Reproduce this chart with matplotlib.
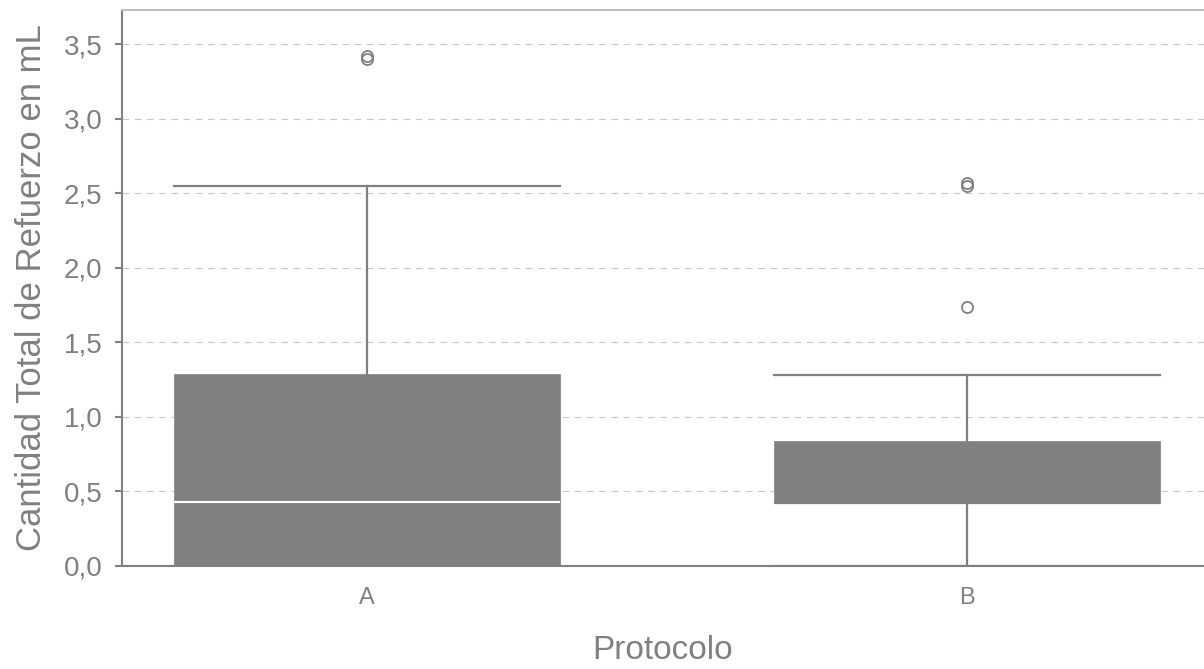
import matplotlib.pyplot as plt

plt.rcParams['font.family'] = ['Liberation Sans', 'DejaVu Sans']

# box statistics
groups = ['A', 'B']
q1 = [0.0, 0.42]
med = [0.43, 0.42]
q3 = [1.29, 0.84]
whislo = [0.0, 0.0]
whishi = [2.55, 1.28]
fliers = [[3.40, 3.42], [1.74, 2.55, 2.57]]

yticks = [0.0, 0.5, 1.0, 1.5, 2.0, 2.5, 3.0, 3.5]
ytick_labels = ['0,0', '0,5', '1,0', '1,5', '2,0', '2,5', '3,0', '3,5']

grey = '#808080'

stats = []
for i in range(len(groups)):
    stats.append({'label': groups[i], 'q1': q1[i], 'med': med[i], 'q3': q3[i],
                  'whislo': whislo[i], 'whishi': whishi[i], 'fliers': fliers[i]})

fig = plt.figure(figsize=(12.04, 6.69), dpi=100)
ax = fig.add_axes([0.1013, 0.154, 0.8987, 0.831])

ax.set_axisbelow(True)
ax.yaxis.grid(True, color='#c8c8c8', linestyle=(0, (6, 5)), linewidth=0.8)

w = 0.643
parts = ax.bxp(stats, positions=[0, 1], widths=w, capwidths=w, patch_artist=True,
               boxprops=dict(facecolor=grey, edgecolor=grey, linewidth=0.5),
               whiskerprops=dict(color=grey, linewidth=1.6),
               capprops=dict(color=grey, linewidth=1.6),
               medianprops=dict(color='white', linewidth=1.6),
               flierprops=dict(marker='o', markerfacecolor='none', markeredgecolor=grey,
                               markersize=8, markeredgewidth=1.3))
# median of B coincides with the lower quartile and is not visible
parts['medians'][1].set_color(grey)

ax.set_xlim(-0.408, 1.395)
ax.set_ylim(0, 3.73)
ax.set_yticks(yticks)
ax.set_yticklabels(ytick_labels)
ax.set_xticks([0, 1])
ax.set_xticklabels(groups)

ax.tick_params(axis='y', colors=grey, labelsize=20, length=5, width=1.5, pad=9)
ax.tick_params(axis='x', colors=grey, labelsize=17, length=0, pad=15)

for s in ['left', 'bottom']:
    ax.spines[s].set_color(grey)
    ax.spines[s].set_linewidth(1.5)
ax.spines['top'].set_color('#c0c0c0')
ax.spines['top'].set_linewidth(1.5)
ax.spines['right'].set_visible(False)

ax.set_ylabel('Cantidad Total de Refuerzo en mL', fontsize=25, color=grey, labelpad=11)
ax.set_xlabel('Protocolo', fontsize=24, color=grey, labelpad=19)

fig.savefig('out.png', dpi=100)
